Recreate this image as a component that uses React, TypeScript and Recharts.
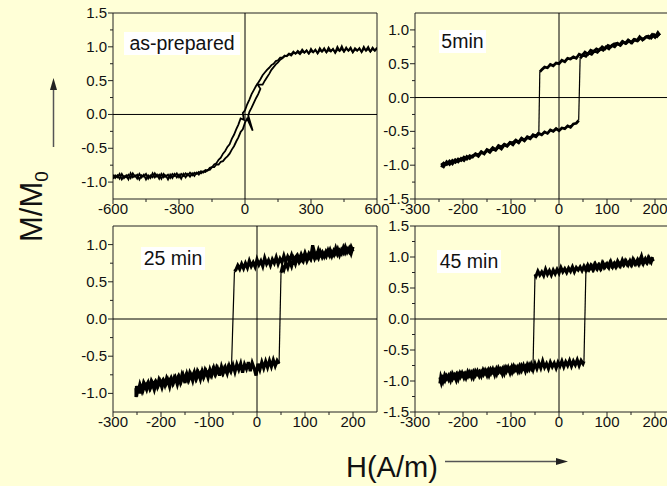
import { LineChart, Line, XAxis, YAxis, ReferenceLine, ReferenceArea } from 'recharts';

const BG = '#FFFFD7';
const FONT = '"Liberation Sans", Arial, Helvetica, sans-serif';

// tick values
const xMajorWide = [-600, -300, 0, 300, 600];
const xMinorWide = [-450, -150, 150, 450];
const xMajorNarrow = [-300, -200, -100, 0, 100, 200];
const xMinorNarrow = [-250, -150, -50, 50, 150];
const yMajorA = [-1, -0.5, 0, 0.5, 1, 1.5];
const yMinorA = [-0.75, -0.25, 0.25, 0.75, 1.25];
const yMajorB = [-1.5, -1, -0.5, 0, 0.5, 1];
const yMinorB = [-1.25, -0.75, -0.25, 0.25, 0.75];
const yMajorC = [-1, -0.5, 0, 0.5, 1];
const yMinorC = [-0.75, -0.25, 0.25, 0.75];
const yMajorD = [-1.5, -1, -0.5, 0, 0.5, 1, 1.5];
const yMinorD = [-1.25, -0.75, -0.25, 0.25, 0.75, 1.25];

type Pt = [number, number]; // [H (A/m), M/M0]

// as-prepared: soft S-curve, two sweeps
const asPreparedDown: Pt[] = [
  [600, 0.99], [590, 0.94], [580, 0.97], [570, 0.93], [560, 1.0], [550, 0.95], [540, 0.97],
  [530, 0.92], [520, 0.98], [510, 0.94], [500, 0.96], [490, 0.92], [480, 0.99], [470, 0.95],
  [460, 0.97], [450, 0.93], [440, 1.01], [430, 0.94], [420, 0.96], [410, 0.91], [400, 0.97],
  [390, 0.93], [380, 0.95], [370, 0.92], [360, 0.98], [350, 0.93], [340, 0.95], [330, 0.9],
  [320, 0.96], [310, 0.92], [300, 0.94], [290, 0.9], [280, 0.95], [270, 0.91], [260, 0.93],
  [250, 0.89], [240, 0.92], [230, 0.9], [220, 0.91], [210, 0.87], [200, 0.89], [190, 0.86],
  [180, 0.87], [170, 0.84], [160, 0.84], [150, 0.8], [140, 0.79], [130, 0.75], [120, 0.73],
  [110, 0.69], [100, 0.66], [90, 0.62], [80, 0.58], [70, 0.52], [60, 0.47], [50, 0.42],
  [40, 0.36], [30, 0.3], [20, 0.22], [10, 0.15], [0, 0.06], [-10, 0.02], [-5, -0.08],
  [-20, -0.06], [-30, -0.15], [-40, -0.22], [-50, -0.3], [-60, -0.36], [-70, -0.44],
  [-80, -0.48], [-90, -0.54], [-100, -0.58], [-110, -0.64], [-120, -0.67], [-130, -0.72],
  [-140, -0.74], [-150, -0.78], [-160, -0.79], [-170, -0.83], [-180, -0.82], [-190, -0.86],
  [-200, -0.84], [-210, -0.89], [-220, -0.86], [-230, -0.91], [-240, -0.87], [-250, -0.92],
  [-260, -0.88], [-270, -0.93], [-280, -0.88], [-290, -0.95], [-300, -0.89], [-310, -0.93],
  [-320, -0.88], [-330, -0.94], [-340, -0.89], [-350, -0.96], [-360, -0.9], [-370, -0.93],
  [-380, -0.88], [-390, -0.95], [-400, -0.89], [-410, -0.93], [-420, -0.87], [-430, -0.94],
  [-440, -0.9], [-450, -0.96], [-460, -0.89], [-470, -0.93], [-480, -0.88], [-490, -0.95],
  [-500, -0.9], [-510, -0.93], [-520, -0.87], [-530, -0.96], [-540, -0.9], [-550, -0.94],
  [-560, -0.88], [-570, -0.95], [-580, -0.9], [-590, -0.94], [-600, -0.89],
];
const asPreparedUp: Pt[] = [
  [-600, -0.95], [-590, -0.9], [-580, -0.93], [-570, -0.88], [-560, -0.96], [-550, -0.91],
  [-540, -0.93], [-530, -0.89], [-520, -0.94], [-510, -0.87], [-500, -0.92], [-490, -0.89],
  [-480, -0.96], [-470, -0.9], [-460, -0.92], [-450, -0.88], [-440, -0.95], [-430, -0.9],
  [-420, -0.93], [-410, -0.87], [-400, -0.92], [-390, -0.89], [-380, -0.95], [-370, -0.88],
  [-360, -0.92], [-350, -0.89], [-340, -0.94], [-330, -0.88], [-320, -0.91], [-310, -0.87],
  [-300, -0.93], [-290, -0.88], [-280, -0.91], [-270, -0.87], [-260, -0.9], [-250, -0.86],
  [-240, -0.9], [-230, -0.86], [-220, -0.88], [-210, -0.85], [-200, -0.87], [-190, -0.84],
  [-180, -0.85], [-170, -0.82], [-160, -0.82], [-150, -0.78], [-140, -0.78], [-130, -0.74],
  [-120, -0.74], [-110, -0.7], [-100, -0.69], [-90, -0.65], [-80, -0.62], [-70, -0.58],
  [-60, -0.52], [-50, -0.47], [-40, -0.4], [-30, -0.34], [-20, -0.26], [-10, -0.22],
  [0, -0.12], [10, -0.06], [35, -0.24], [15, -0.02], [20, 0.04], [30, 0.1], [40, 0.17],
  [50, 0.24], [60, 0.3], [70, 0.38], [58, 0.44], [80, 0.44], [90, 0.5], [100, 0.55],
  [110, 0.6], [120, 0.66], [130, 0.7], [140, 0.74], [150, 0.77], [160, 0.81], [170, 0.83],
  [180, 0.86], [190, 0.87], [200, 0.9], [210, 0.89], [220, 0.93], [230, 0.9], [240, 0.94],
  [250, 0.91], [260, 0.96], [270, 0.92], [280, 0.94], [290, 0.9], [300, 0.97], [310, 0.92],
  [320, 0.95], [330, 0.91], [340, 0.98], [350, 0.93], [360, 0.96], [370, 0.92], [380, 0.99],
  [390, 0.94], [400, 0.96], [410, 0.92], [420, 1.0], [430, 0.94], [440, 0.97], [450, 0.93],
  [460, 0.99], [470, 0.94], [480, 0.97], [490, 0.92], [500, 0.98], [510, 0.95], [520, 0.97],
  [530, 0.93], [540, 1.0], [550, 0.94], [560, 0.97], [570, 0.93], [580, 0.99], [590, 0.95],
  [600, 0.97],
];

// 5 min: descending sweep (top part, then bottom part) and ascending sweep
const min5DownTop: Pt[] = [
  [210, 0.95], [204, 0.9], [198, 0.93], [192, 0.88], [186, 0.91], [180, 0.89], [174, 0.85],
  [168, 0.9], [162, 0.84], [156, 0.86], [150, 0.81], [144, 0.85], [138, 0.8], [132, 0.83],
  [126, 0.78], [120, 0.8], [114, 0.79], [108, 0.75], [102, 0.77], [96, 0.72], [90, 0.75],
  [84, 0.7], [78, 0.72], [72, 0.68], [66, 0.7], [60, 0.64], [54, 0.67], [48, 0.62], [42, 0.64],
  [36, 0.58], [30, 0.6], [24, 0.57], [18, 0.58], [12, 0.53], [6, 0.55], [0, 0.5], [-6, 0.51],
  [-12, 0.47], [-18, 0.49], [-24, 0.44], [-30, 0.45], [-36, 0.41], [-40, 0.38],
];
const min5DownBottom: Pt[] = [
  [-42, -0.52], [-48, -0.57], [-54, -0.55], [-60, -0.6], [-66, -0.58], [-72, -0.63],
  [-78, -0.6], [-84, -0.66], [-90, -0.63], [-96, -0.67], [-102, -0.66], [-108, -0.71],
  [-114, -0.69], [-120, -0.73], [-126, -0.71], [-132, -0.77], [-138, -0.74], [-144, -0.79],
  [-150, -0.77], [-156, -0.83], [-162, -0.8], [-168, -0.85], [-174, -0.83], [-180, -0.88],
  [-186, -0.86], [-192, -0.91], [-198, -0.88], [-204, -0.93], [-210, -0.91], [-216, -0.96],
  [-222, -0.93], [-228, -0.99], [-234, -0.95], [-240, -1.02], [-245, -0.97],
];
const min5UpBottom: Pt[] = [
  [-245, -1.03], [-240, -0.97], [-234, -0.99], [-228, -0.94], [-222, -0.98], [-216, -0.92],
  [-210, -0.95], [-204, -0.9], [-198, -0.93], [-192, -0.87], [-186, -0.9], [-180, -0.86],
  [-174, -0.84], [-168, -0.87], [-162, -0.81], [-156, -0.83], [-150, -0.78], [-144, -0.81],
  [-138, -0.76], [-132, -0.78], [-126, -0.73], [-120, -0.76], [-114, -0.7], [-108, -0.72],
  [-102, -0.67], [-96, -0.7], [-90, -0.64], [-84, -0.67], [-78, -0.61], [-72, -0.64],
  [-66, -0.59], [-60, -0.61], [-54, -0.56], [-48, -0.58], [-42, -0.53], [-36, -0.55],
  [-30, -0.51], [-24, -0.53], [-18, -0.48], [-12, -0.5], [-6, -0.46], [0, -0.49], [6, -0.45],
  [12, -0.46], [18, -0.42], [24, -0.44], [30, -0.39], [36, -0.38], [41, -0.34],
];
const min5UpTop: Pt[] = [
  [44, 0.58], [50, 0.63], [56, 0.61], [62, 0.66], [68, 0.64], [74, 0.69], [80, 0.67],
  [86, 0.72], [92, 0.7], [98, 0.75], [104, 0.72], [110, 0.77], [116, 0.75], [122, 0.8],
  [128, 0.77], [134, 0.82], [140, 0.8], [146, 0.84], [152, 0.81], [158, 0.86], [164, 0.84],
  [170, 0.88], [176, 0.86], [182, 0.9], [188, 0.88], [194, 0.93], [200, 0.89], [206, 0.96],
  [210, 0.92],
];

// 25 min
const min25DownTop: Pt[] = [
  [200, 0.97], [196, 0.88], [192, 0.95], [188, 0.9], [184, 0.97], [180, 0.89], [176, 0.93],
  [172, 0.86], [168, 0.94], [164, 0.88], [160, 0.92], [156, 0.85], [152, 0.93], [148, 0.87],
  [144, 0.91], [140, 0.84], [136, 0.9], [132, 0.86], [128, 0.93], [124, 0.84], [120, 0.89],
  [116, 0.99], [112, 0.83], [108, 0.88], [104, 0.82], [100, 0.89], [96, 0.81], [92, 0.87],
  [88, 0.8], [84, 0.86], [80, 0.83], [76, 0.78], [72, 0.86], [68, 0.79], [64, 0.84], [60, 0.77],
  [56, 0.85], [52, 0.76], [48, 0.81], [44, 0.74], [40, 0.83], [36, 0.75], [32, 0.8], [28, 0.72],
  [24, 0.79], [20, 0.74], [16, 0.82], [12, 0.71], [8, 0.78], [4, 0.73], [0, 0.8], [-4, 0.7],
  [-8, 0.76], [-12, 0.71], [-16, 0.78], [-20, 0.69], [-24, 0.75], [-28, 0.68], [-32, 0.74],
  [-36, 0.67], [-40, 0.72], [-44, 0.66], [-47, 0.64],
];
const min25DownBottom: Pt[] = [
  [-53, -0.62], [-56, -0.69], [-60, -0.64], [-64, -0.71], [-68, -0.66], [-72, -0.73],
  [-76, -0.67], [-80, -0.7], [-84, -0.65], [-88, -0.74], [-92, -0.68], [-96, -0.76],
  [-100, -0.7], [-104, -0.73], [-108, -0.68], [-112, -0.78], [-116, -0.71], [-120, -0.75],
  [-124, -0.7], [-128, -0.8], [-132, -0.73], [-136, -0.78], [-140, -0.72], [-144, -0.82],
  [-148, -0.75], [-152, -0.8], [-156, -0.74], [-160, -0.85], [-164, -0.77], [-168, -0.82],
  [-172, -0.78], [-176, -0.87], [-180, -0.8], [-184, -0.84], [-188, -0.79], [-192, -0.89],
  [-196, -0.82], [-200, -0.86], [-204, -0.81], [-208, -0.91], [-212, -0.84], [-216, -0.88],
  [-220, -0.83], [-224, -0.93], [-228, -0.86], [-232, -0.9], [-236, -0.85], [-240, -0.96],
  [-244, -0.88], [-248, -0.99], [-251, -0.9], [-252, -1.05], [-250, -0.94],
];
const min25UpBottom: Pt[] = [
  [-252, -0.93], [-251, -1.04], [-248, -0.92], [-245, -1.0], [-242, -0.91], [-238, -0.97],
  [-234, -0.89], [-230, -0.95], [-226, -0.86], [-222, -0.93], [-218, -0.87], [-214, -0.95],
  [-210, -0.85], [-206, -0.9], [-202, -0.84], [-198, -0.92], [-194, -0.83], [-190, -0.88],
  [-186, -0.82], [-182, -0.91], [-178, -0.8], [-174, -0.86], [-170, -0.79], [-166, -0.88],
  [-162, -0.78], [-158, -0.84], [-154, -0.76], [-150, -0.86], [-146, -0.74], [-142, -0.82],
  [-138, -0.75], [-134, -0.83], [-130, -0.72], [-126, -0.8], [-122, -0.73], [-118, -0.81],
  [-114, -0.7], [-110, -0.77], [-106, -0.71], [-102, -0.79], [-98, -0.68], [-94, -0.75],
  [-90, -0.66], [-86, -0.74], [-82, -0.67], [-78, -0.76], [-74, -0.64], [-70, -0.72],
  [-66, -0.65], [-62, -0.73], [-58, -0.63], [-54, -0.7], [-50, -0.62], [-46, -0.71],
  [-42, -0.61], [-38, -0.68], [-34, -0.6], [-30, -0.72], [-26, -0.61], [-22, -0.67],
  [-18, -0.58], [-14, -0.7], [-10, -0.59], [-6, -0.66], [-2, -0.76], [2, -0.6], [6, -0.68],
  [10, -0.58], [14, -0.66], [18, -0.57], [22, -0.65], [26, -0.56], [30, -0.64], [34, -0.55],
  [38, -0.63], [42, -0.56], [46, -0.6],
];
const min25UpTop: Pt[] = [
  [50, 0.62], [53, 0.7], [56, 0.66], [60, 0.75], [64, 0.69], [68, 0.78], [72, 0.71], [76, 0.81],
  [80, 0.74], [84, 0.83], [88, 0.76], [92, 0.8], [96, 0.77], [100, 0.86], [104, 0.78],
  [108, 0.84], [112, 0.8], [116, 0.88], [120, 0.81], [124, 0.87], [128, 0.82], [132, 0.9],
  [136, 0.83], [140, 0.88], [144, 0.84], [148, 0.92], [152, 0.85], [156, 0.9], [160, 0.86],
  [164, 0.95], [168, 0.87], [172, 0.92], [176, 0.88], [180, 0.96], [184, 0.89], [188, 0.94],
  [192, 0.9], [196, 0.97], [200, 0.91],
];

// 45 min
const min45DownTop: Pt[] = [
  [195, 1.0], [192, 0.92], [188, 0.98], [184, 0.91], [180, 0.97], [176, 0.9], [172, 1.01],
  [168, 0.91], [164, 0.96], [160, 0.89], [156, 0.95], [152, 0.88], [148, 0.94], [144, 0.87],
  [140, 0.93], [136, 0.88], [132, 0.95], [128, 0.86], [124, 0.91], [120, 0.85], [116, 0.9],
  [112, 0.84], [108, 0.92], [104, 0.83], [100, 0.89], [96, 0.84], [92, 0.9], [88, 0.82],
  [84, 0.87], [80, 0.81], [76, 0.88], [72, 0.8], [68, 0.86], [64, 0.81], [60, 0.87], [56, 0.79],
  [52, 0.85], [48, 0.78], [44, 0.84], [40, 0.79], [36, 0.83], [32, 0.76], [28, 0.84], [24, 0.77],
  [20, 0.82], [16, 0.75], [12, 0.81], [8, 0.76], [4, 0.83], [0, 0.74], [-4, 0.8], [-8, 0.73],
  [-12, 0.79], [-16, 0.71], [-20, 0.78], [-24, 0.72], [-28, 0.8], [-32, 0.7], [-36, 0.76],
  [-40, 0.71], [-44, 0.77], [-48, 0.69], [-50, 0.72],
];
const min45DownBottom: Pt[] = [
  [-54, -0.72], [-58, -0.8], [-62, -0.74], [-66, -0.82], [-70, -0.76], [-74, -0.8],
  [-78, -0.75], [-82, -0.84], [-86, -0.77], [-90, -0.82], [-94, -0.76], [-98, -0.86],
  [-102, -0.79], [-106, -0.83], [-110, -0.78], [-114, -0.88], [-118, -0.8], [-122, -0.85],
  [-126, -0.79], [-130, -0.89], [-134, -0.82], [-138, -0.86], [-142, -0.81], [-146, -0.91],
  [-150, -0.83], [-154, -0.88], [-158, -0.82], [-162, -0.92], [-166, -0.85], [-170, -0.89],
  [-174, -0.84], [-178, -0.94], [-182, -0.86], [-186, -0.91], [-190, -0.85], [-194, -0.95],
  [-198, -0.88], [-202, -0.92], [-206, -0.87], [-210, -0.97], [-214, -0.89], [-218, -0.94],
  [-222, -0.88], [-226, -0.99], [-230, -0.91], [-234, -0.96], [-238, -0.9], [-242, -1.01],
  [-246, -0.93], [-248, -1.04],
];
const min45UpBottom: Pt[] = [
  [-248, -0.94], [-245, -1.03], [-242, -0.95], [-238, -1.0], [-234, -0.92], [-230, -0.98],
  [-226, -0.9], [-222, -0.97], [-218, -0.91], [-214, -0.99], [-210, -0.89], [-206, -0.94],
  [-202, -0.87], [-198, -0.95], [-194, -0.88], [-190, -0.93], [-186, -0.86], [-182, -0.94],
  [-178, -0.85], [-174, -0.91], [-170, -0.84], [-166, -0.92], [-162, -0.85], [-158, -0.9],
  [-154, -0.83], [-150, -0.91], [-146, -0.82], [-142, -0.88], [-138, -0.81], [-134, -0.9],
  [-130, -0.8], [-126, -0.86], [-122, -0.81], [-118, -0.89], [-114, -0.79], [-110, -0.85],
  [-106, -0.78], [-102, -0.87], [-98, -0.77], [-94, -0.84], [-90, -0.78], [-86, -0.85],
  [-82, -0.76], [-78, -0.83], [-74, -0.75], [-70, -0.84], [-66, -0.74], [-62, -0.81],
  [-58, -0.73], [-54, -0.82], [-50, -0.72], [-46, -0.8], [-42, -0.71], [-38, -0.79],
  [-34, -0.68], [-30, -0.78], [-26, -0.72], [-22, -0.8], [-18, -0.7], [-14, -0.77],
  [-10, -0.71], [-6, -0.79], [-2, -0.7], [2, -0.76], [6, -0.68], [10, -0.77], [14, -0.69],
  [18, -0.75], [22, -0.67], [26, -0.76], [30, -0.68], [34, -0.74], [38, -0.66], [42, -0.75],
  [46, -0.67], [50, -0.72], [52, -0.68],
];
const min45UpTop: Pt[] = [
  [56, 0.76], [58, 0.83], [62, 0.79], [66, 0.86], [70, 0.8], [74, 0.88], [78, 0.82], [82, 0.87],
  [86, 0.81], [90, 0.9], [94, 0.83], [98, 0.88], [102, 0.84], [106, 0.91], [110, 0.85],
  [114, 0.89], [118, 0.84], [122, 0.93], [126, 0.86], [130, 0.91], [134, 0.87], [138, 0.94],
  [142, 0.88], [146, 0.92], [150, 0.87], [154, 0.96], [158, 0.89], [162, 0.93], [166, 0.88],
  [170, 0.97], [174, 0.9], [178, 0.95], [182, 0.91], [186, 0.99], [190, 0.92], [194, 0.96],
  [197, 0.93],
];

const toPts = (arr: Pt[]) => arr.map(([h, m]) => ({ h, m }));
const jump = (from: Pt[], to: Pt[]) => toPts([from[from.length - 1], to[0]]);

interface Seg { pts: { h: number; m: number }[]; w: number }

interface PanelCfg {
  left: number;
  top: number;
  xDomain: [number, number];
  yDomain: [number, number];
  xMajor: number[];
  xMinor: number[];
  yMajor: number[];
  yMinor: number[];
  segs: Seg[];
  label: string;
  box: [number, number, number, number];
}

// noisy branches drawn heavy, switching jumps drawn thin
const loopSegs = (dTop: Pt[], dBot: Pt[], uBot: Pt[], uTop: Pt[], w: number): Seg[] => [
  { pts: toPts(dTop), w },
  { pts: jump(dTop, dBot), w: 1.2 },
  { pts: toPts(dBot), w },
  { pts: toPts(uBot), w },
  { pts: jump(uBot, uTop), w: 1.2 },
  { pts: toPts(uTop), w },
];

const panels: PanelCfg[] = [
  {
    left: 113, top: 13, xDomain: [-600, 600], yDomain: [-1.25, 1.5],
    xMajor: xMajorWide, xMinor: xMinorWide, yMajor: yMajorA, yMinor: yMinorA,
    segs: [{ pts: toPts(asPreparedDown), w: 1.8 }, { pts: toPts(asPreparedUp), w: 1.8 }],
    label: 'as-prepared', box: [124, 32, 116, 23],
  },
  {
    left: 415, top: 13, xDomain: [-300, 250], yDomain: [-1.5, 1.25],
    xMajor: xMajorNarrow, xMinor: xMinorNarrow, yMajor: yMajorB, yMinor: yMinorB,
    segs: loopSegs(min5DownTop, min5DownBottom, min5UpBottom, min5UpTop, 2.8),
    label: '5min', box: [439, 30, 47, 23],
  },
  {
    left: 113, top: 226, xDomain: [-300, 250], yDomain: [-1.25, 1.25],
    xMajor: xMajorNarrow, xMinor: xMinorNarrow, yMajor: yMajorC, yMinor: yMinorC,
    segs: loopSegs(min25DownTop, min25DownBottom, min25UpBottom, min25UpTop, 3.2),
    label: '25 min', box: [141, 247, 64, 23],
  },
  {
    left: 415, top: 226, xDomain: [-300, 250], yDomain: [-1.5, 1.5],
    xMajor: xMajorNarrow, xMinor: xMinorNarrow, yMajor: yMajorD, yMinor: yMinorD,
    segs: loopSegs(min45DownTop, min45DownBottom, min45UpBottom, min45UpTop, 3.2),
    label: '45 min', box: [437, 250, 64, 23],
  },
];

const PLOT_W = 264;
const PLOT_H = 186;
const Y_W = 45;
const X_H = 24;

function Panel({ p }: { p: PanelCfg }) {
  const xTick = (props: any) => {
    const { x, y, payload } = props;
    const major = p.xMajor.includes(payload.value);
    return (
      <g>
        <line x1={x} x2={x} y1={y} y2={y + (major ? 5 : 3)} stroke="#222" />
        {major && (
          <text x={x} y={y + 15} textAnchor="middle" fontSize={15} fill="#111" fontFamily={FONT}>
            {payload.value}
          </text>
        )}
      </g>
    );
  };
  const yTick = (props: any) => {
    const { x, y, payload } = props;
    const major = p.yMajor.includes(payload.value);
    return (
      <g>
        <line x1={x - (major ? 5 : 3)} x2={x} y1={y} y2={y} stroke="#222" />
        {major && (
          <text x={x - 6} y={y + 5} textAnchor="end" fontSize={15} fill="#111" fontFamily={FONT}>
            {payload.value.toFixed(1)}
          </text>
        )}
      </g>
    );
  };

  return (
    <div style={{ position: 'absolute', left: p.left - Y_W, top: p.top - 2 }}>
      <LineChart
        width={Y_W + PLOT_W + 2}
        height={2 + PLOT_H + X_H}
        margin={{ top: 2, right: 2, bottom: 0, left: 0 }}
      >
        <XAxis
          dataKey="h" type="number" domain={p.xDomain} allowDataOverflow
          ticks={[...p.xMajor, ...p.xMinor]} interval={0}
          tickSize={0} tickMargin={0} height={X_H} axisLine={false} tick={xTick}
        />
        <YAxis
          type="number" domain={p.yDomain} allowDataOverflow
          ticks={[...p.yMajor, ...p.yMinor]} interval={0}
          tickSize={0} tickMargin={0} width={Y_W} axisLine={false} tick={yTick}
        />
        <ReferenceLine x={0} stroke="#000" strokeWidth={1} />
        <ReferenceLine y={0} stroke="#000" strokeWidth={1} />
        {p.segs.map((s, i) => (
          <Line
            key={i} data={s.pts} dataKey="m" type="linear" stroke="#000" strokeWidth={s.w}
            strokeLinejoin="miter" dot={false} activeDot={false} isAnimationActive={false}
          />
        ))}
        <ReferenceArea
          x1={p.xDomain[0]} x2={p.xDomain[1]} y1={p.yDomain[0]} y2={p.yDomain[1]}
          fill="none" stroke="#222" strokeWidth={1} ifOverflow="visible"
        />
      </LineChart>
    </div>
  );
}

export default function App() {
  return (
    <div
      style={{
        position: 'absolute', left: 0, top: 0, width: 667, height: 486,
        overflow: 'hidden', background: BG, fontFamily: FONT,
      }}
    >
      <style>{'.recharts-surface{overflow:visible}.recharts-wrapper{overflow:visible}'}</style>
      {panels.map((p, i) => <Panel key={i} p={p} />)}
      {panels.map((p, i) => (
        <div
          key={`lbl${i}`}
          style={{
            position: 'absolute', left: p.box[0], top: p.box[1], width: p.box[2], height: p.box[3],
            lineHeight: `${p.box[3]}px`, background: '#fff', fontSize: 19.5, color: '#111',
            textAlign: 'center', whiteSpace: 'nowrap',
          }}
        >
          {p.label}
        </div>
      ))}
      <svg width={667} height={486} style={{ position: 'absolute', left: 0, top: 0, pointerEvents: 'none' }}>
        <text transform="translate(42,242) rotate(-90)" fontSize={31} fill="#111" fontFamily={FONT}>
          M/M<tspan fontSize={19} dy={6}>0</tspan>
        </text>
        <line x1={53.5} y1={147} x2={53.5} y2={88} stroke="#555" strokeWidth={1.5} />
        <polygon points="50,90 53.5,78 57,90" fill="#222" />
        <text x={346} y={477} fontSize={29} fill="#111" fontFamily={FONT}>H(A/m)</text>
        <line x1={445} y1={461.5} x2={558} y2={461.5} stroke="#555" strokeWidth={1.5} />
        <polygon points="556,458 568,461.5 556,465" fill="#222" />
      </svg>
    </div>
  );
}
